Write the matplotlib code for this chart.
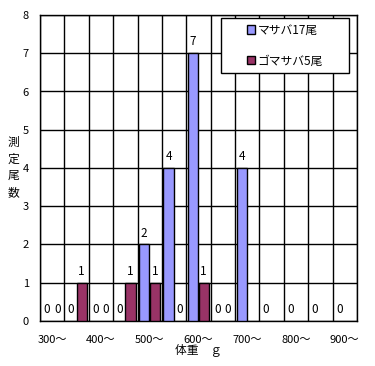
import matplotlib
matplotlib.use("Agg")
import matplotlib.pyplot as plt
from matplotlib.patches import Rectangle
import numpy as np

plt.rcParams['font.family'] = ['Noto Sans CJK JP', 'DejaVu Sans']

# weight classes (50 g steps), only every other one is labelled
classes = ['300～', '350～', '400～', '450～', '500～', '550～', '600～',
           '650～', '700～', '750～', '800～', '850～', '900～']
masaba = [0, 0, 0, 0, 2, 4, 7, 0, 4, 0, 0, 0, 0]
gomasaba = [0, 1, 0, 1, 1, 0, 1, 0, None, None, None, None, None]
series_names = ['マサバ17尾', 'ゴマサバ5尾']
colors = ['#9999FF', '#993366']
ylabel = '測定尾数'

fig = plt.figure(figsize=(3.75, 3.66), dpi=100)
ax = fig.add_axes([0.1067, 0.123, 0.8453, 0.836])

x = np.arange(len(classes))
w = 0.42
offsets = [-0.23, 0.21]
for vals, off, c in zip([masaba, gomasaba], offsets, colors):
    for xi, v in zip(x, vals):
        if v is None:
            continue
        if v > 0:
            ax.bar(xi + off, v, w, color=c, edgecolor='black', linewidth=1, zorder=3)
        ax.text(xi + off, v + 0.13, str(v), ha='center', va='bottom', fontsize=8.5, zorder=4)

ax.set_xlim(-0.5, len(classes) - 0.5)
ax.set_ylim(0, 8)
ax.set_yticks(range(0, 9))
ax.set_xticks(x[::2])
ax.set_xticklabels(classes[::2])
ax.set_xticks(np.arange(-0.5, len(classes), 1), minor=True)
ax.tick_params(axis='both', length=0, labelsize=8)
ax.tick_params(axis='x', pad=10)
ax.tick_params(axis='y', pad=8)
ax.tick_params(axis='x', which='minor', length=0)
ax.grid(True, axis='y', which='major', color='black', linewidth=1, zorder=1)
ax.grid(True, axis='x', which='minor', color='black', linewidth=1, zorder=1)
ax.grid(False, axis='x', which='major')
for s in ax.spines.values():
    s.set_linewidth(1)

ax.set_xlabel('体重　ｇ', fontsize=8.5, labelpad=-1)
# vertical stacked y label, one character per line
for k, ch in enumerate(ylabel):
    fig.text(0.036, 0.61 - k * 0.045, ch, fontsize=8.5, ha='center', va='center')

# legend box
ax.add_patch(Rectangle((0.571, 0.81), 0.404, 0.18, transform=ax.transAxes,
                       facecolor='white', edgecolor='black', linewidth=1, zorder=5))
handles = [Rectangle((0, 0), 1, 1, facecolor=c, edgecolor='black', linewidth=1) for c in colors]
leg = ax.legend(handles, series_names, loc='center', bbox_to_anchor=(0.773, 0.90),
                frameon=False, fontsize=8.5, handlelength=0.7, handleheight=0.7,
                handletextpad=0.2, labelspacing=1.5, borderpad=0)
leg.set_zorder(6)

fig.savefig('out.png', dpi=100)
